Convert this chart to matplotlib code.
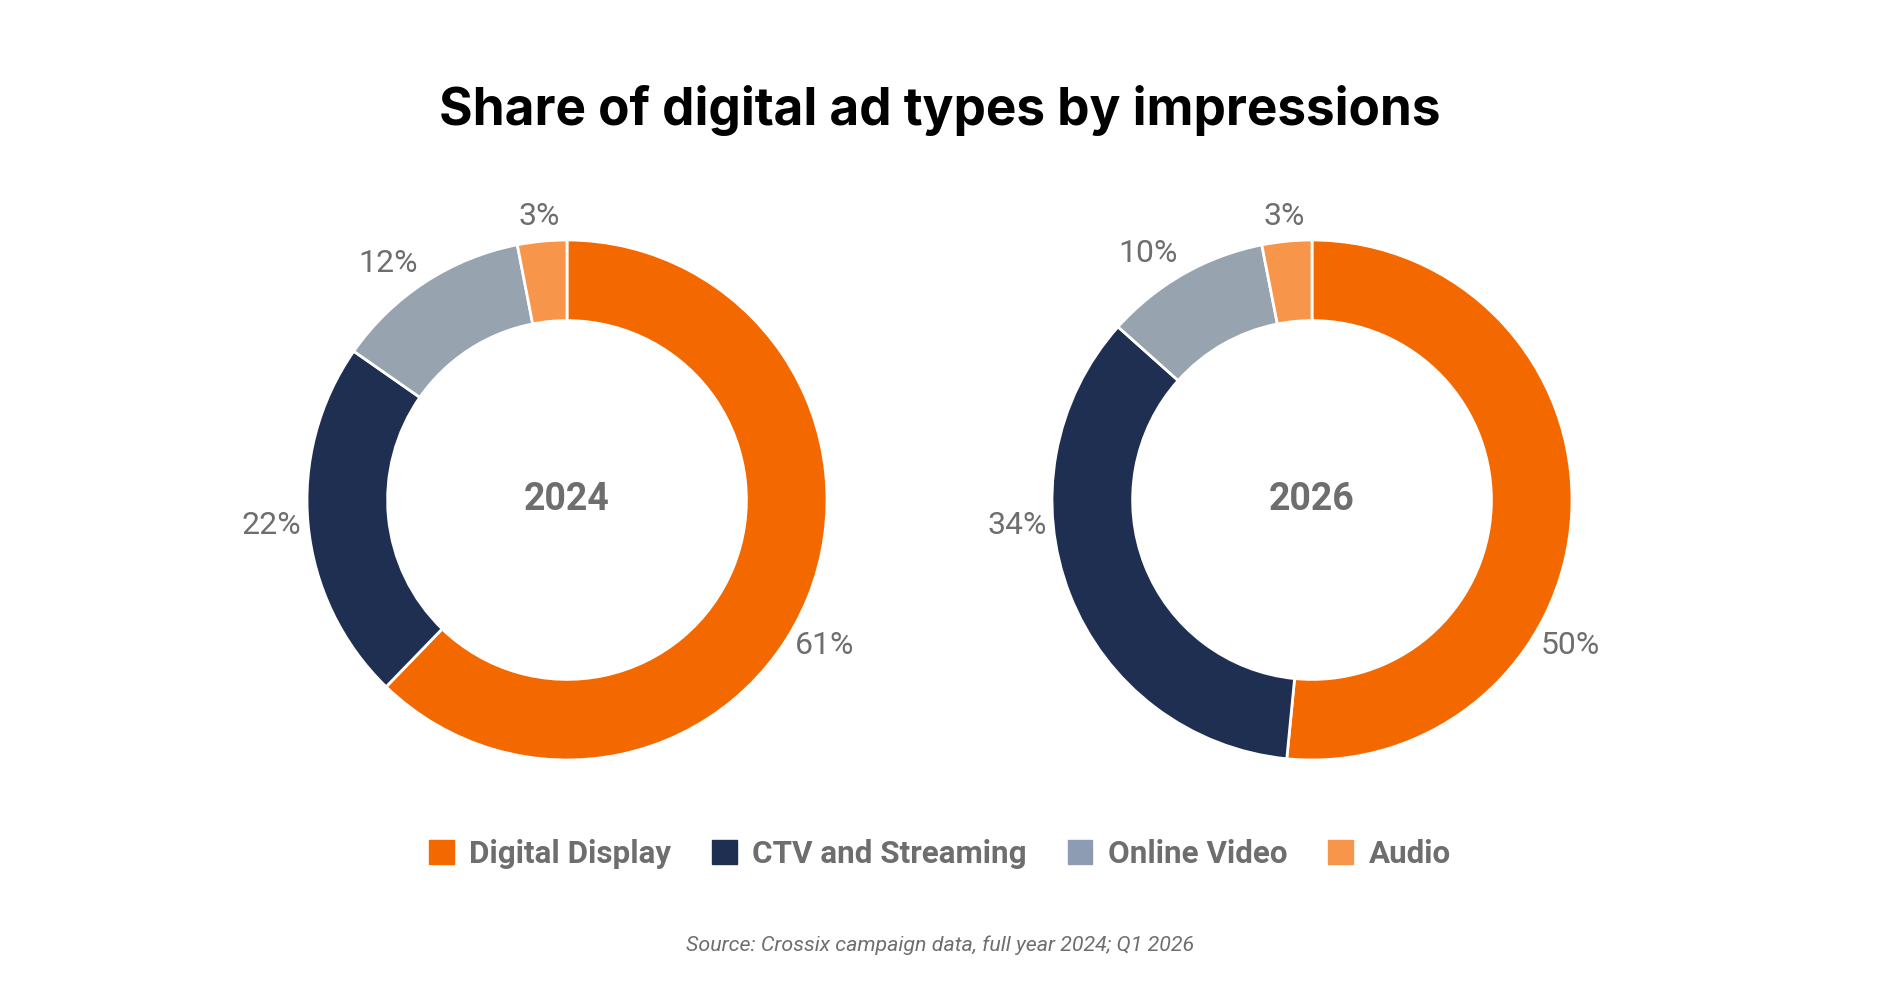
import matplotlib.pyplot as plt
import numpy as np

categories = ['Digital Display', 'CTV and Streaming', 'Online Video', 'Audio']
years = ['2024', '2026']
shares_2024 = [61, 22, 12, 3]
shares_2026 = [50, 34, 10, 3]
colors = ['#F46800', '#1E2F52', '#97A3AE', '#F7964B']
legend_colors = ['#F46800', '#1E2F52', '#8D9BB3', '#F7964B']

title = 'Share of digital ad types by impressions'
source = 'Source: Crossix campaign data, full year 2024; Q1 2026'

GRAY = '#6E6E6E'
NARROW = ['Roboto', 'DejaVu Sans']
# the two large slices keep their labels in fixed spots, as in the original
LABEL_ANGLE = {'Digital Display': -29.5, 'CTV and Streaming': 185}

fig = plt.figure(figsize=(18.8, 10), dpi=100)

R_PX = 260
lim = 1.3
w = 2 * lim * R_PX / 1880
h = 2 * lim * R_PX / 1000

for cx, year, shares in [(567 / 1880, years[0], shares_2024), (1312 / 1880, years[1], shares_2026)]:
    ax = fig.add_axes([cx - w / 2, 0.5 - h / 2, w, h])
    wedges, _ = ax.pie(shares, colors=colors, startangle=90, counterclock=False, radius=1,
                       wedgeprops=dict(width=0.31, edgecolor='white', linewidth=2))
    for wdg, val, cat in zip(wedges, shares, categories):
        span = wdg.theta2 - wdg.theta1
        ang = LABEL_ANGLE.get(cat, (wdg.theta1 + wdg.theta2) / 2)
        if cat == 'Online Video':
            ang += 4
        d = 1.14 if span > 20 else 1.095
        x, y = d * np.cos(np.radians(ang)), d * np.sin(np.radians(ang))
        ax.text(x, y, f'{val}%', ha='center', va='center', fontsize=23, color=GRAY, family=NARROW)
    ax.text(0, 0, year, ha='center', va='center', fontsize=27, fontweight='bold', color=GRAY, family=NARROW)
    ax.set_xlim(-lim, lim)
    ax.set_ylim(-lim, lim)
    ax.set_aspect('equal')
    ax.axis('off')

fig.text(0.5, 0.89, title, ha='center', va='center', fontsize=37, fontweight='bold',
         color='black', family=['Inter', 'DejaVu Sans'])

handles = [plt.Rectangle((0, 0), 1, 1, color=c) for c in legend_colors]
leg = fig.legend(handles, categories, loc='center', bbox_to_anchor=(0.5, 0.146), ncol=4, frameon=False,
                 handlelength=0.78, handleheight=0.78, handletextpad=0.5, columnspacing=1.3,
                 prop=dict(family=NARROW, weight='bold', size=22.6))
for t in leg.get_texts():
    t.set_color(GRAY)

fig.text(0.5, 0.055, source, ha='center', va='center', fontsize=15.4, style='italic', color=GRAY, family=NARROW)

fig.savefig('out.png', dpi=100, facecolor='white')
